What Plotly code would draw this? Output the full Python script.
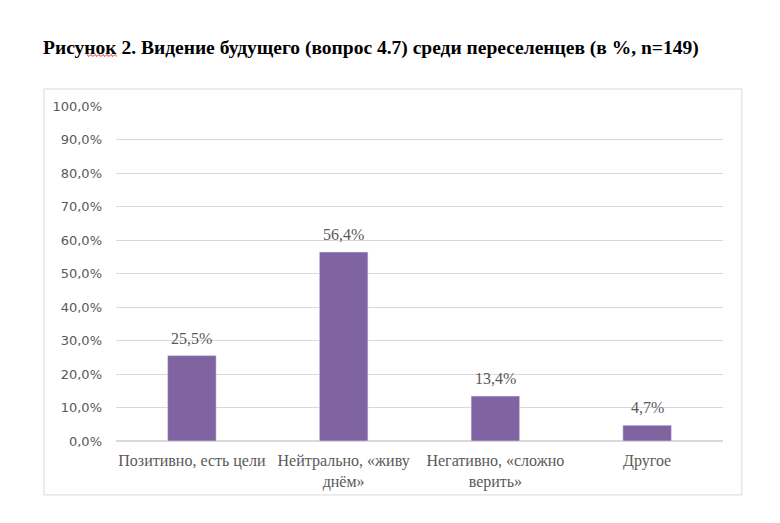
import plotly.graph_objects as go

categories = ["Позитивно, есть цели", "Нейтрально, «живу<br>днём»", "Негативно, «сложно<br>верить»", "Другое"]
values = [25.5, 56.4, 13.4, 4.7]
labels = ["25,5%", "56,4%", "13,4%", "4,7%"]

bar_color = "#8064a2"
grey = "#595959"

fig = go.Figure()
fig.add_trace(go.Bar(
    x=categories,
    y=values,
    marker_color=bar_color,
    hoverinfo="x+y",
))

# подписи данных над столбцами
for c, v, t in zip(categories, values, labels):
    fig.add_annotation(x=c, y=v, text=t, showarrow=False, yanchor="bottom", yshift=7,
                       font=dict(family="Liberation Serif", size=16, color=grey))

# рамка области диаграммы
fig.add_shape(type="rect", xref="paper", yref="paper",
              x0=-0.1186, x1=1.031, y0=-0.161, y1=1.0507,
              line=dict(color="#d9d9d9", width=1))

# красное волнистое подчёркивание под словом «Рисунок» (как в Word)
def px_x(sx):
    return (sx - 115) / 607

def px_y(sy):
    return (440 - sy) / 335

pts = []
sx = 86
k = 0
while sx <= 117:
    pts.append((px_x(sx), px_y(53.5 if k % 2 == 0 else 55.5)))
    sx += 2
    k += 1
path = "M " + " L ".join(f"{a:.5f},{b:.5f}" for a, b in pts)
fig.add_shape(type="path", xref="paper", yref="paper", path=path,
              line=dict(color="#e03030", width=1))

fig.update_layout(
    width=780, height=523,
    paper_bgcolor="white", plot_bgcolor="white",
    margin=dict(l=108, r=65, t=98, b=90),
    separators=", ",
    bargap=0.68,
    showlegend=False,
    title=dict(
        text="<b>Рисунок 2. Видение будущего (вопрос 4.7) среди переселенцев (в %, n=149)</b>",
        font=dict(family="Liberation Serif", size=19.5, color="black"),
        xref="container", yref="container",
        x=35 / 780, y=1 - 39 / 523, xanchor="left", yanchor="middle",
    ),
)
fig.update_yaxes(range=[0, 100], dtick=10, tickformat=".1f", ticksuffix="%",
                 gridcolor="#d9d9d9", zeroline=True, zerolinecolor="#d9d9d9",
                 showline=False, ticks="", ticklen=0, ticklabelstandoff=13,
                 tickfont=dict(family="DejaVu Sans", size=13, color=grey))
fig.update_xaxes(showline=True, linecolor="#d9d9d9", ticks="", ticklabelstandoff=5,
                 tickfont=dict(family="Liberation Serif", size=16, color=grey))

fig.write_html("out.html")
